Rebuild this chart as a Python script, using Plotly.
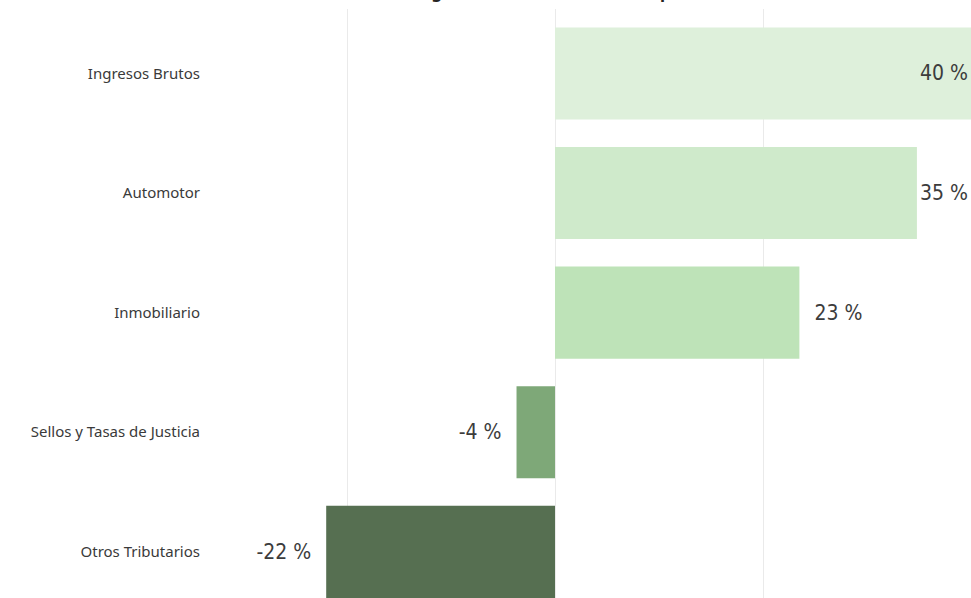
import plotly.graph_objects as go

categories = ["Ingresos Brutos", "Automotor", "Inmobiliario", "Sellos y Tasas de Justicia", "Otros Tributarios"]
values = [40.0, 34.8, 23.5, -3.7, -22.0]
value_labels = ["40 %", "35 %", "23 %", "-4 %", "-22 %"]
colors = ["#DEF0DB", "#CFEACB", "#BEE3B8", "#7EA878", "#566F51"]
text_positions = ["inside", "outside", "outside", "outside", "outside"]
title_text = "Variación según Tributo Provincial Comparativo Interanual"

value_font = "DejaVu Sans Condensed, Liberation Sans Narrow, Roboto, sans-serif"
label_font = "Noto Sans, Open Sans, sans-serif"

# small non-breaking padding between bar end and outside labels
pad = "\u00a0\u00a0"
display_text = []
for v, lab, pos in zip(values, value_labels, text_positions):
    if pos == "outside" and v < 0:
        display_text.append(lab + pad)
    elif pos == "outside" and v < 30:
        display_text.append(pad + lab)
    else:
        display_text.append(lab)

fig = go.Figure()
fig.add_trace(go.Bar(
    y=categories,
    x=values,
    orientation="h",
    marker=dict(color=colors, line=dict(width=0)),
    text=display_text,
    textposition=text_positions,
    insidetextanchor="end",
    textfont=dict(family=value_font, size=21, color="#3C3C3C"),
    outsidetextfont=dict(family=value_font, size=21, color="#3C3C3C"),
    insidetextfont=dict(family=value_font, size=21, color="#3C3C3C"),
    cliponaxis=False,
    constraintext="none",
    hoverinfo="skip",
))

fig.update_layout(
    width=971,
    height=598,
    margin=dict(l=243, r=0, t=9, b=0),
    paper_bgcolor="white",
    plot_bgcolor="white",
    showlegend=False,
    bargap=0.23,
    annotations=[dict(
        text="<b>" + title_text + "</b>",
        xref="paper", yref="paper", x=0.46, y=1.0, yshift=4,
        xanchor="center", yanchor="bottom", showarrow=False,
        font=dict(family=label_font, size=17, color="#252423"),
    )],
)
fig.update_xaxes(
    range=[-30, 40],
    tickvals=[-20, 0, 20, 40],
    showticklabels=False,
    showgrid=True,
    gridcolor="#EAEAEA",
    gridwidth=1,
    zeroline=False,
    showline=False,
)
fig.update_yaxes(
    type="category",
    categoryorder="array",
    categoryarray=categories,
    range=[4.386, -0.539],
    showgrid=False,
    zeroline=False,
    showline=False,
    ticks="",
    ticklabelstandoff=42,
    tickfont=dict(family=label_font, size=15, color="#3A3A3A"),
)

fig.write_html("out.html", config={"displayModeBar": False},
               post_script="document.body.style.margin='0';")
